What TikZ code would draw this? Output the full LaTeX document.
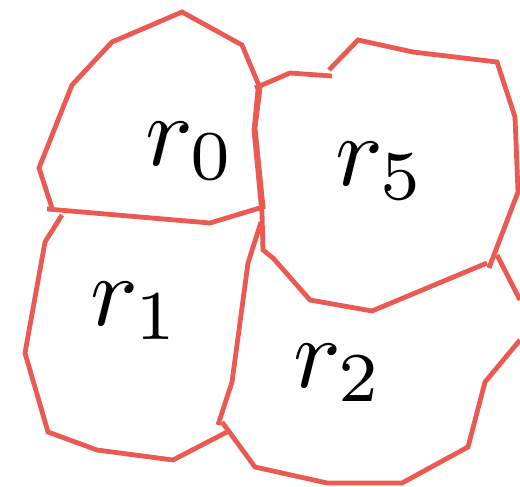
\documentclass[tikz,border=0pt]{standalone}
\definecolor{cellred}{RGB}{235,90,82}
\tikzset{
  cell/.style={draw=cellred, line width=4.8pt, line join=miter},
  lab/.style={inner sep=0pt, anchor=base west, scale=10}
}
\begin{document}
\begin{tikzpicture}[x=1pt,y=-1pt]
\useasboundingbox (0,0) rectangle (520,487);
% r0
\draw[cell] (47,209) -- (210,223) -- (263,207) -- (255,128) -- (260,88) -- (242,45) -- (182,12) -- (112,42) -- (72,85) -- (39,168) -- (52,208);
% r5
\draw[cell] (255,88) -- (290,73) -- (332,76);
\draw[cell] (329,70) -- (358,40) -- (413,52) -- (497,62) -- (515,117) -- (518,192) -- (489,268);
\draw[cell] (487,263) -- (372,311) -- (310,300) -- (273,258) -- (263,250) -- (262,213) -- (254,130) -- (258,90);
% r1
\draw[cell] (62,215) -- (45,242) -- (25,353) -- (48,432) -- (97,450) -- (173,460) -- (227,432);
\draw[cell] (218,425) -- (232,382) -- (248,263) -- (261,222);
% r2
\draw[cell] (222,422) -- (255,467) -- (327,483) -- (402,483) -- (468,447) -- (485,382) -- (520,340);
\draw[cell] (497,255) -- (520,300);
% labels
\node[lab] (l0) at (143,165) {$r_0$};
\node[lab] (l5) at (333,185) {$r_5$};
\node[lab] (l1) at (88,325) {$r_1$};
\node[lab] (l2) at (291,387) {$r_2$};
\end{tikzpicture}
\end{document}
